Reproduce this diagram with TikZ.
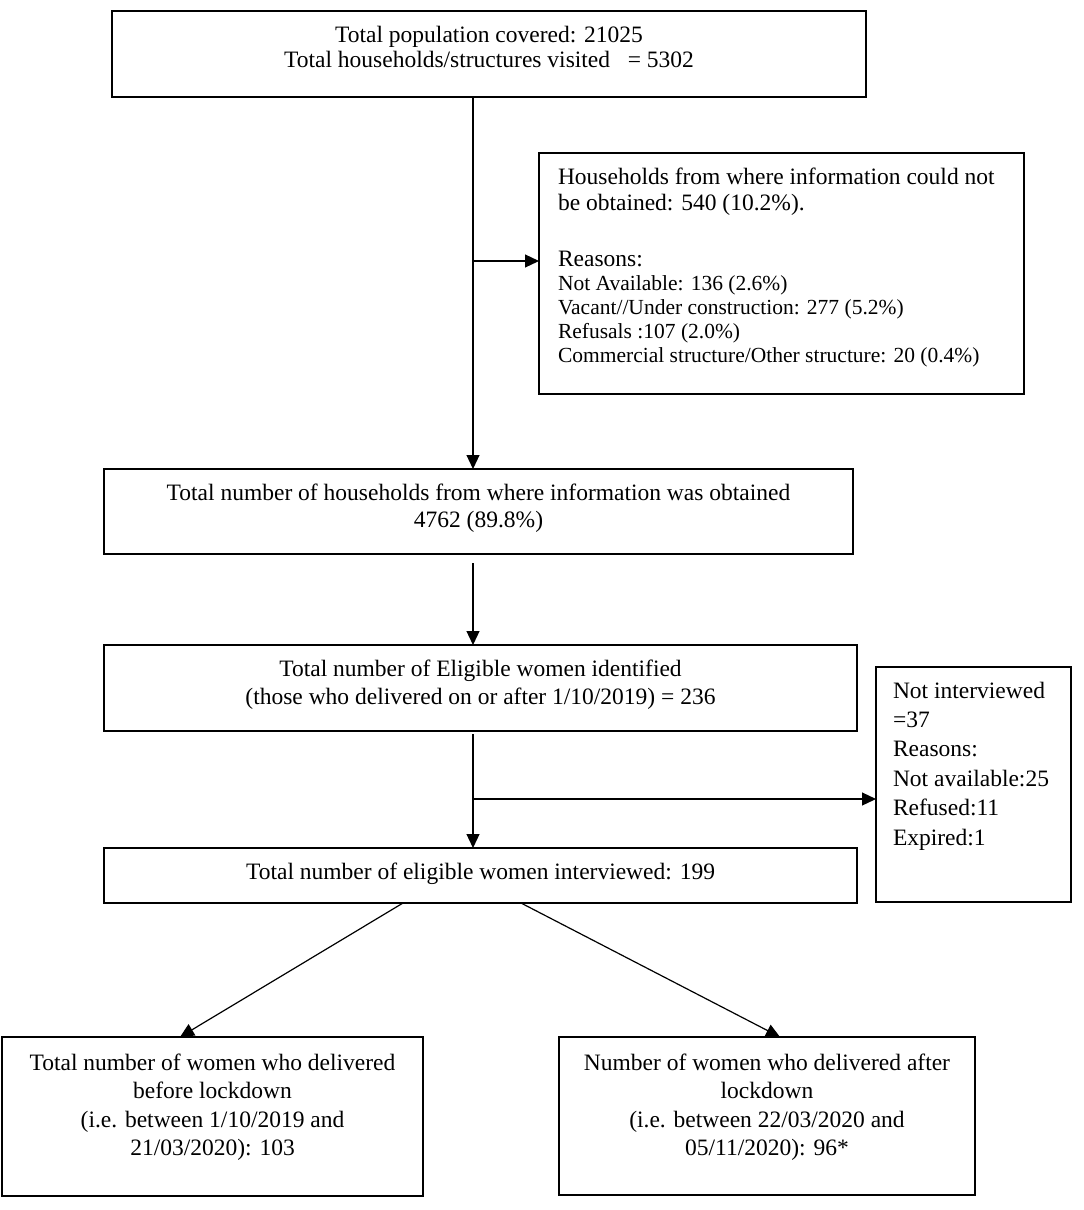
\documentclass[tikz,border=0pt]{standalone}
\usepackage{fontspec}
\setmainfont{Liberation Serif}
\usetikzlibrary{arrows.meta}
\usetikzlibrary{calc}

\tikzset{
    box/.style={draw, line width=1.3pt, inner sep=0pt, outer sep=0pt, anchor=north west,
        font=\fontsize{23.5}{26}\selectfont},
    arrow/.style={line width=1.2pt, -{Triangle[length=14pt, width=13pt]}},
    link/.style={line width=1.2pt},
}
\newcommand{\boxtext}[3]{\begin{minipage}[t][#2pt][t]{#1pt}#3\end{minipage}}
\newcommand{\topstrut}{\rule{0pt}{31pt}}

\begin{document}
\begin{tikzpicture}[x=1pt, y=-1pt]
    \useasboundingbox (0, 0) rectangle (1084, 1210);

    % boxes
    \node[box] (visit) at (112, 11) {\boxtext{754}{86}{\centering
        \topstrut Total population covered: 21025\\[-1pt]
        Total households/structures visited~~~= 5302}};
    \node[box, inner xsep=19pt] (lost) at (539, 153) {\boxtext{447}{241}{\raggedright
        \topstrut Households from where information could not\\
        be obtained: 540 (10.2\%).\par
        \vspace{30pt}
        Reasons:\par
        \fontsize{21.5}{24}\selectfont
        Not Available: 136 (2.6\%)\\
        Vacant//Under construction: 277 (5.2\%)\\
        Refusals :107 (2.0\%)\\
        Commercial structure/Other structure: 20 (0.4\%)\par}};
    \node[box] (info) at (104, 469) {\boxtext{749}{85}{\centering
        \topstrut Total number of households from where information was obtained\\[1pt]
        4762 (89.8\%)}};
    \node[box] (elig) at (104, 645) {\boxtext{753}{86}{\centering
        \topstrut Total number of Eligible women identified\\[2pt]
        (those who delivered on or after 1/10/2019) = 236}};
    \node[box] (inter) at (104, 848) {\boxtext{753}{55}{\centering
        \topstrut Total number of eligible women interviewed: 199}};
    \node[box, inner xsep=17pt] (notint) at (876, 667) {\boxtext{161}{235}{\raggedright
        \fontsize{23.5}{29.4}\selectfont
        \rule{0pt}{31pt}Not interviewed\\
        =37\\
        Reasons:\\
        Not available:25\\
        Refused:11\\
        Expired:1\par}};
    \node[box] (before) at (2, 1037) {\boxtext{421}{159}{\centering
        \fontsize{23.5}{28.5}\selectfont
        \rule{0pt}{33pt}Total number of women who delivered\\
        before lockdown\\
        (i.e. between 1/10/2019 and\\
        21/03/2020): 103\par}};
    \node[box] (after) at (559, 1037) {\boxtext{416}{158}{\centering
        \fontsize{23.5}{28.5}\selectfont
        \rule{0pt}{33pt}Number of women who delivered after\\
        lockdown\\
        (i.e. between 22/03/2020 and\\
        05/11/2020): 96*\par}};

    % connectors
    \coordinate (trunk) at (473, 0);
    \coordinate (split1) at (0, 261);
    \coordinate (split2) at (0, 799);
    \draw[arrow] (trunk |- visit.south) -- (trunk |- info.north);
    \draw[arrow] (trunk |- split1) -- (lost.west |- split1);
    \draw[arrow] ($(trunk |- info.south)+(0, 9)$) -- (trunk |- elig.north);
    \draw[arrow] ($(trunk |- elig.south)+(0, 3)$) -- (trunk |- inter.north);
    \draw[arrow] (trunk |- split2) -- (notint.west |- split2);
    \draw[arrow] ($(inter.south west)+(299, 0)$) -- ($(before.north west)+(178, 0)$);
    \draw[arrow] ($(inter.south west)+(417, 0)$) -- ($(after.north west)+(221, 0)$);
\end{tikzpicture}
\end{document}
